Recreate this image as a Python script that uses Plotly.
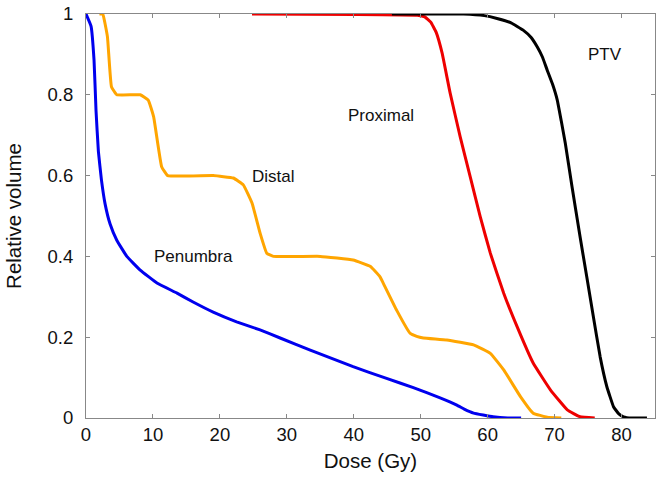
import plotly.graph_objects as go

# Penumbra (blue)
pen_x = [0, 0.75, 1.2, 1.5, 1.85, 2.3, 2.85, 3.6, 4.6, 6.1, 8.1, 10.6, 13.6, 16.0, 19.0, 22.5, 26.0, 29.0,
         33.5, 39.9, 44.9, 48.9, 52.9, 55.4, 56.5, 57.9, 60.8, 63.0, 65.0]
pen_y = [1.0, 0.97, 0.886, 0.76, 0.66, 0.59, 0.53, 0.48, 0.44, 0.40, 0.366, 0.334, 0.309, 0.287, 0.262, 0.238, 0.218, 0.198,
         0.168, 0.127, 0.098, 0.075, 0.05, 0.032, 0.022, 0.012, 0.003, 0.0, 0.0]

# Distal (orange)
dis_x = [2.0, 2.5, 3.2, 3.8, 4.6, 8.1, 9.3, 10.1, 11.3, 12.2, 19.0, 22.0, 23.5, 24.8, 26.0, 27.0, 28.0,
         35.0, 39.9, 42.5, 43.9, 44.4, 46.4, 48.4, 49.4, 50.4, 53.9, 57.9, 60.4, 62.4, 64.9, 66.8, 68.9, 71.0]
dis_y = [1.0, 1.0, 0.944, 0.82, 0.80, 0.80, 0.787, 0.746, 0.622, 0.60, 0.60, 0.594, 0.577, 0.532, 0.458, 0.408, 0.40,
         0.40, 0.391, 0.375, 0.35, 0.334, 0.267, 0.21, 0.202, 0.198, 0.193, 0.181, 0.16, 0.119, 0.053, 0.012, 0.002, 0.0]

# Proximal (red)
pro_x = [24.8, 40.0, 49.5, 50.6, 51.5, 52.3, 53.2, 54.4, 55.9, 57.4, 58.9, 60.4, 62.4, 64.4, 66.8, 69.4, 71.9, 73.8, 76.0]
pro_y = [1.0, 0.999, 0.997, 0.993, 0.98, 0.955, 0.903, 0.804, 0.696, 0.597, 0.498, 0.408, 0.309, 0.226, 0.136, 0.069, 0.02, 0.003, 0.0]

# PTV (black)
ptv_x = [45.7, 56.4, 59.5, 61.4, 63.5, 65.3, 66.5, 67.4, 68.2, 68.9, 69.7, 70.4, 71.0, 71.6, 72.6, 73.8, 74.8, 75.8,
         76.8, 77.8, 78.8, 79.6, 80.3, 81.5, 83.8]
ptv_y = [1.0, 1.0, 0.996, 0.989, 0.978, 0.96, 0.942, 0.919, 0.893, 0.861, 0.826, 0.787, 0.735, 0.68, 0.573, 0.449, 0.35, 0.25,
         0.152, 0.078, 0.028, 0.01, 0.003, 0.0, 0.0]

labels = ["PTV", "Proximal", "Distal", "Penumbra"]
label_x = [77.6, 44.1, 28.0, 16.0]
label_y = [0.9, 0.748, 0.599, 0.40]

FONT = "Liberation Sans, Arial, Helvetica, sans-serif"

fig = go.Figure()
for xs, ys, col, name in [(pen_x, pen_y, "#0000ee", "Penumbra"),
                          (dis_x, dis_y, "#ffa500", "Distal"),
                          (pro_x, pro_y, "#ee0000", "Proximal"),
                          (ptv_x, ptv_y, "#000000", "PTV")]:
    fig.add_trace(go.Scatter(x=xs, y=ys, mode="lines", name=name,
                             line=dict(color=col, width=3, shape="spline", smoothing=0.3),
                             cliponaxis=False))

for t, lx, ly in zip(labels, label_x, label_y):
    fig.add_annotation(x=lx, y=ly, text=t, showarrow=False,
                       font=dict(family=FONT, size=17, color="#111111"))

fig.update_layout(
    width=663, height=480,
    margin=dict(l=86, r=8, t=14, b=62),
    paper_bgcolor="white", plot_bgcolor="white",
    showlegend=False,
    font=dict(family=FONT, size=18, color="#111111"),
)
fig.update_xaxes(range=[0, 85], tickvals=[0, 10, 20, 30, 40, 50, 60, 70, 80],
                 ticks="inside", ticklen=4, tickcolor="#888888",
                 showline=True, linecolor="#888888", linewidth=1, mirror="ticks",
                 showgrid=False, zeroline=False, automargin=False,
                 ticklabeloverflow="allow",
                 title=dict(text="Dose (Gy)", font=dict(size=20.5), standoff=9),
                 tickfont=dict(size=18.5))
fig.update_yaxes(range=[0, 1], tickvals=[0, 0.2, 0.4, 0.6, 0.8, 1],
                 ticktext=["0", "0.2", "0.4", "0.6", "0.8", "1"],
                 ticks="inside", ticklen=4, tickcolor="#888888",
                 showline=True, linecolor="#888888", linewidth=1, mirror="ticks",
                 showgrid=False, zeroline=False, automargin=False,
                 ticklabelstandoff=8, ticklabeloverflow="allow",
                 title=dict(text="Relative volume", font=dict(size=20.5), standoff=20),
                 tickfont=dict(size=18.5))

# remove the page's default body margin so the figure sits at the window's corner
fig.write_html("out.html", config={"displayModeBar": False},
               post_script="document.body.style.margin='0';")
